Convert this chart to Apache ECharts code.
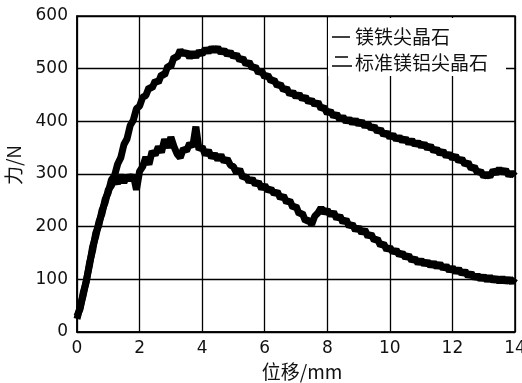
<!DOCTYPE html>
<html><head><meta charset="utf-8">
<script src="https://cdn.jsdelivr.net/npm/echarts@6/dist/echarts.min.js"></script>
<style>html,body{margin:0;padding:0;background:#fff}#c{width:522px;height:383px}</style>
</head><body><div id="c"></div>
<script>
const displacement = [0,0.1,0.2,0.3,0.4,0.5,0.6,0.7,0.8,0.9,1.0,1.1,1.2,1.3,1.4,1.5,1.6,1.7,1.8,1.9,2.0,2.1,2.2,2.3,2.4,2.5,2.6,2.7,2.8,2.9,3.0,3.1,3.2,3.3,3.4,3.5,3.6,3.7,3.8,3.9,4.0,4.1,4.2,4.3,4.4,4.5,4.6,4.7,4.8,4.9,5.0,5.1,5.2,5.3,5.4,5.5,5.6,5.7,5.8,5.9,6.0,6.1,6.2,6.3,6.4,6.5,6.6,6.7,6.8,6.9,7.0,7.1,7.2,7.3,7.4,7.5,7.6,7.7,7.8,7.9,8.0,8.1,8.2,8.3,8.4,8.5,8.6,8.7,8.8,8.9,9.0,9.1,9.2,9.3,9.4,9.5,9.6,9.7,9.8,9.9,10.0,10.1,10.2,10.3,10.4,10.5,10.6,10.7,10.8,10.9,11.0,11.1,11.2,11.3,11.4,11.5,11.6,11.7,11.8,11.9,12.0,12.1,12.2,12.3,12.4,12.5,12.6,12.7,12.8,12.9,13.0,13.1,13.2,13.3,13.4,13.5,13.6,13.7,13.8,13.9,14.0];
// upper curve
const forceUpper = [25,48,70,99,127,162,182,209,225,252,265,289,297,319,331,356,367,392,402,424,429,446,449,464,463,477,474,489,488,505,504,522,521,535,527,532,521,531,522,533,527,538,531,540,533,540,530,536,526,532,522,527,516,520,508,513,501,504,492,496,484,488,476,479,467,471,459,463,451,456,446,452,442,447,436,441,431,437,424,427,415,420,409,414,403,409,399,405,396,403,394,400,390,396,386,391,380,385,374,379,369,375,365,371,362,368,358,365,355,361,352,358,348,354,343,348,338,344,333,339,329,335,324,329,318,322,310,314,302,306,295,300,295,307,301,310,302,308,297,303,296];
// lower curve
const forceLower = [30,44,75,96,131,155,188,203,231,246,270,278,291,282,298,284,297,289,298,270,305,314,332,318,343,336,352,341,366,350,370,352,338,331,348,344,358,352,390,346,352,336,345,331,338,327,336,323,329,317,314,302,309,293,296,285,291,280,285,272,279,268,272,262,267,254,259,246,250,236,239,224,226,211,213,204,220,226,236,226,232,221,228,215,221,208,214,200,205,193,199,188,194,181,186,174,177,164,168,156,161,151,156,146,150,141,146,135,140,130,137,128,134,125,132,123,130,120,126,116,123,113,120,110,116,106,112,102,108,100,106,98,105,97,103,95,103,95,101,94,102];
const xTicks = [0,2,4,6,8,10,12,14];
const yTicks = [0,100,200,300,400,500,600];
const legendNames = ['镁铁尖晶石','标准镁铝尖晶石'];

const chart = echarts.init(document.getElementById('c'), null, {renderer:'canvas'});
const numFont = 'DejaVu Sans';
const cjk = '"Noto Sans CJK SC", sans-serif';
chart.setOption({
  animation:false,
  backgroundColor:'#fff',
  grid:{left:77,right:7,top:16,bottom:51,outerBoundsMode:'none',containLabel:false,show:true,borderColor:'#000',borderWidth:1.5,backgroundColor:'transparent'},
  xAxis:{type:'value',min:xTicks[0],max:xTicks[xTicks.length-1],interval:2,
    name:'位移/mm',nameLocation:'middle',nameGap:29,
    nameTextStyle:{fontFamily:cjk,fontSize:19,color:'#111',padding:[0,0,0,12]},
    axisLine:{lineStyle:{color:'#000',width:1.5}},axisTick:{show:false},
    axisLabel:{fontFamily:numFont,fontSize:17,color:'#111',margin:8},
    splitLine:{show:true,lineStyle:{color:'#000',width:1.3}}},
  yAxis:{type:'value',min:yTicks[0],max:yTicks[yTicks.length-1],interval:100,
    name:'力/N',nameLocation:'middle',nameGap:54,
    nameTextStyle:{fontFamily:cjk,fontSize:19,color:'#111',padding:[0,0,0,18]},
    axisLine:{lineStyle:{color:'#000',width:1.5}},axisTick:{show:false},
    axisLabel:{fontFamily:numFont,fontSize:17,color:'#111',margin:9},
    splitLine:{show:true,lineStyle:{color:'#000',width:1.3}}},
  series:[
    {name:legendNames[0],type:'line',showSymbol:false,data:displacement.map((x,i)=>[x,forceUpper[i]]),
      lineStyle:{color:'#000',width:7},z:3},
    {name:legendNames[1],type:'line',showSymbol:false,data:displacement.map((x,i)=>[x,forceLower[i]]),
      lineStyle:{color:'#000',width:7},z:3}
  ],
  graphic:[
    {type:'rect',shape:{x:328,y:18,width:178,height:58},style:{fill:'#fff'},z:10},
    {type:'line',shape:{x1:332,y1:37,x2:350,y2:37},style:{stroke:'#000',lineWidth:1.5},z:11},
    {type:'line',shape:{x1:335,y1:57,x2:348,y2:57},style:{stroke:'#000',lineWidth:1.5},z:11},
    {type:'line',shape:{x1:332,y1:66,x2:352,y2:66},style:{stroke:'#000',lineWidth:1.5},z:11},
    {type:'text',x:355,y:37,style:{text:legendNames[0],font:'19px "Noto Sans CJK SC"',fill:'#111',verticalAlign:'middle'},z:11},
    {type:'text',x:355,y:63,style:{text:legendNames[1],font:'19px "Noto Sans CJK SC"',fill:'#111',verticalAlign:'middle'},z:11}
  ]
});
</script></body></html>
